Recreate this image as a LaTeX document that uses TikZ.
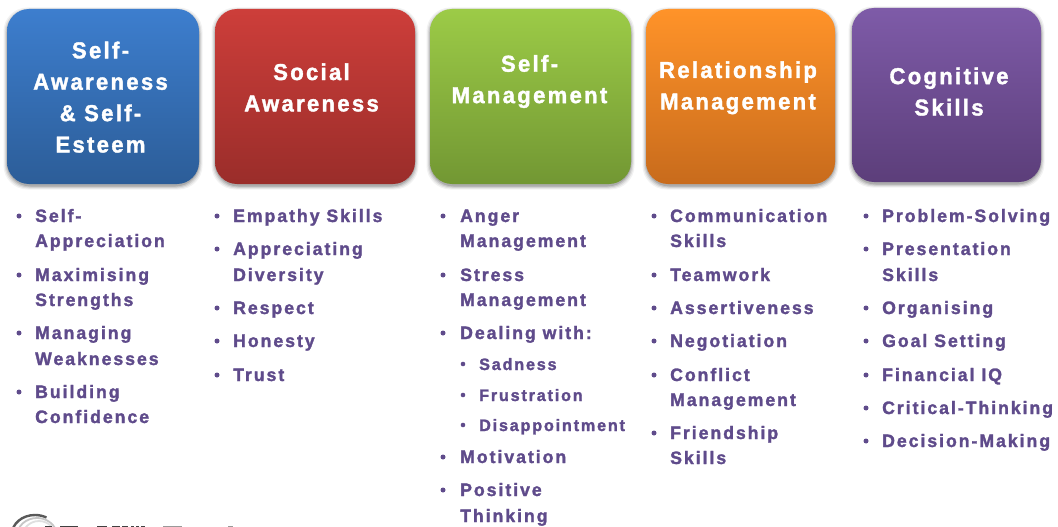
\documentclass[tikz,border=0pt]{standalone}
\usepackage{fontspec}
\setmainfont{Liberation Sans}
\newfontfamily\headfont[LetterSpace=10,FakeStretch=0.96,BoldFeatures={FakeBold=1.6}]{Liberation Sans}
\newfontfamily\bodyfont[LetterSpace=11,FakeStretch=0.98,BoldFeatures={FakeBold=1.6}]{Liberation Sans}
\definecolor{itemc}{HTML}{5F4B8B}
\definecolor{blueT}{HTML}{3D7ECE}\definecolor{blueB}{HTML}{2C5D98}
\definecolor{redT}{HTML}{CD3E3A}\definecolor{redB}{HTML}{9A2D2A}
\definecolor{greenT}{HTML}{9CCB47}\definecolor{greenB}{HTML}{729733}
\definecolor{orangeT}{HTML}{FF9329}\definecolor{orangeB}{HTML}{C86B1C}
\definecolor{purpleT}{HTML}{7E5BA8}\definecolor{purpleB}{HTML}{5C3E7A}
\tikzset{x=1pt,y=-1pt,
  hd/.style={rounded corners=22pt,inner sep=0pt,outer sep=0pt},
  hdtext/.style={align=center,text=white,inner sep=0pt,
    font=\headfont\bfseries\fontsize{23}{31.4}\selectfont},
  lab/.style={anchor=base west,text=itemc,inner sep=0pt,
    font=\bodyfont\bfseries\fontsize{18}{22}\selectfont},
  sublab/.style={anchor=base west,text=itemc,inner sep=0pt,
    font=\bodyfont\bfseries\fontsize{16.5}{22}\selectfont},
  bul/.style={circle,fill=itemc,inner sep=0pt,minimum size=5pt},
  subbul/.style={circle,fill=itemc,inner sep=0pt,minimum size=4.6pt},
}
% name, x1, y1, x2, y2, colour stem
\newcommand{\hdbox}[6]{%
  \foreach \s/\o in {3.5/.05,2.5/.07,1.5/.10,.5/.14}{
    \fill[black,opacity=\o,rounded corners=24pt] (#2-\s,#3+2-\s) rectangle (#4+\s,#5+2+\s);}
  \node[hd,top color=#6T,bottom color=#6B,minimum width=#4pt-#2pt,minimum height=#5pt-#3pt] (#1) at ({(#2+#4)/2},{(#3+#5)/2}) {};
}
\newcommand{\hdtxt}[4]{\node[hdtext] (#1) at (#2,#3) {#4};}
% bullet x, text x, y, text
\newcommand{\itm}[4]{\node[bul] at (#1,#3) {}; \node[lab] at (#2,#3+6) {#4};}
\newcommand{\more}[3]{\node[lab] at (#1,#2+6) {#3};}
\newcommand{\subi}[4]{\node[subbul] at (#1,#3) {}; \node[sublab] at (#2,#3+6) {#4};}
\begin{document}
\begin{tikzpicture}
\useasboundingbox (0,0) rectangle (1058,527);
\fill[white] (0,0) rectangle (1058,527);
\hdbox{a}{7}{9}{199}{184}{blue}
\hdbox{b}{215}{9}{415}{184}{red}
\hdbox{c}{430}{9}{631}{184}{green}
\hdbox{d}{646}{9}{835}{184}{orange}
\hdbox{e}{852}{8}{1041}{182}{purple}
\hdtxt{at}{100.5}{97.2}{Self-\\Awareness\\\&\ Self-\\Esteem}
\hdtxt{bt}{311.5}{87.5}{Social\\Awareness}
\hdtxt{ct}{529.5}{81.5}{Self-\\Management}
\hdtxt{dt}{738}{87.8}{Relationship\\Management}
\hdtxt{et}{949}{91.6}{Cognitive\\Skills}
% column 1
\itm{19}{35}{216}{Self-}
\more{35}{241}{Appreciation}
\itm{19}{35}{275}{Maximising}
\more{35}{300}{Strengths}
\itm{19}{35}{333}{Managing}
\more{35}{359}{Weaknesses}
\itm{19}{35}{392}{Building}
\more{35}{417}{Confidence}
% column 2
\itm{217}{233}{216}{Empathy Skills}
\itm{217}{233}{249}{Appreciating}
\more{233}{275}{Diversity}
\itm{217}{233}{308}{Respect}
\itm{217}{233}{341}{Honesty}
\itm{217}{233}{375}{Trust}
% column 3
\itm{443}{460}{216}{Anger}
\more{460}{241}{Management}
\itm{443}{460}{275}{Stress}
\more{460}{300}{Management}
\itm{443}{460}{333}{Dealing with:}
\subi{463}{479}{364}{Sadness}
\subi{463}{479}{395}{Frustration}
\subi{463}{479}{425}{Disappointment}
\itm{443}{460}{457}{Motivation}
\itm{443}{460}{490}{Positive}
\more{460}{516}{Thinking}
% column 4
\itm{654}{670}{216}{Communication}
\more{670}{241}{Skills}
\itm{654}{670}{275}{Teamwork}
\itm{654}{670}{308}{Assertiveness}
\itm{654}{670}{341}{Negotiation}
\itm{654}{670}{375}{Conflict}
\more{670}{400}{Management}
\itm{654}{670}{433}{Friendship}
\more{670}{458}{Skills}
% column 5
\itm{866}{882}{216}{Problem-Solving}
\itm{866}{882}{249}{Presentation}
\more{882}{275}{Skills}
\itm{866}{882}{308}{Organising}
\itm{866}{882}{341}{Goal Setting}
\itm{866}{882}{375}{Financial IQ}
\itm{866}{882}{408}{Critical-Thinking}
\itm{866}{882}{441}{Decision-Making}
% cropped logo at the bottom edge
\begin{scope}
\clip (0,510) rectangle (1058,527);
\draw[gray!70!black,line width=2.4pt] (12,534) arc[start angle=180,end angle=60,x radius=23pt,y radius=19pt];
\draw[gray!45,line width=1.8pt] (17,536) arc[start angle=180,end angle=20,x radius=20pt,y radius=18pt];
\draw[gray!25,line width=1.8pt] (22,538) arc[start angle=180,end angle=0,x radius=17pt,y radius=17pt];
\foreach \xa/\xb in {45/52,60/78,97/107,112/120,122/128,131/134,136/139,141/145}
  \fill[black!75] (\xa,525.5) rectangle (\xb,527);
\foreach \xa/\xb in {163/182,228/233}
  \fill[black!40] (\xa,525.5) rectangle (\xb,527);
\end{scope}
\end{tikzpicture}
\end{document}
